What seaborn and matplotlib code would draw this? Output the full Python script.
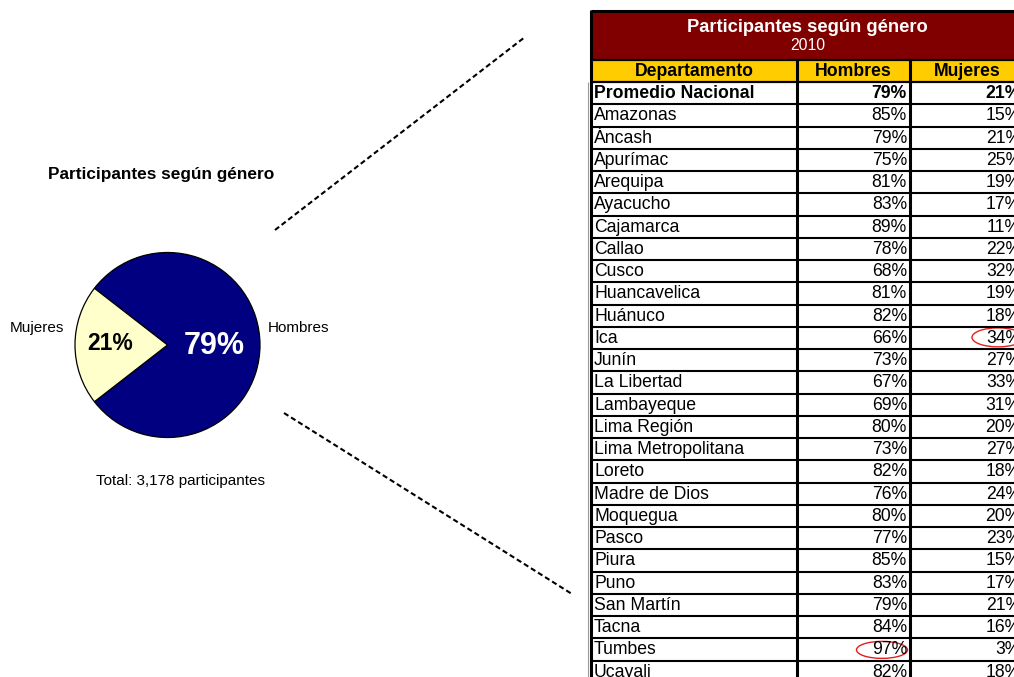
import numpy as np
import pandas as pd
import matplotlib.pyplot as plt
import seaborn as sns
from matplotlib.patches import Rectangle, Ellipse

# --- datos ---
genero = ['Hombres', 'Mujeres']
nacional = [79, 21]
total_participantes = '3,178'

departamentos = ['Amazonas', 'Áncash', 'Apurímac', 'Arequipa', 'Ayacucho', 'Cajamarca',
                 'Callao', 'Cusco', 'Huancavelica', 'Huánuco', 'Ica', 'Junín',
                 'La Libertad', 'Lambayeque', 'Lima Región', 'Lima Metropolitana',
                 'Loreto', 'Madre de Dios', 'Moquegua', 'Pasco', 'Piura', 'Puno',
                 'San Martín', 'Tacna', 'Tumbes', 'Ucayali']
hombres = [85, 79, 75, 81, 83, 89, 78, 68, 81, 82, 66, 73, 67, 69, 80, 73,
           82, 76, 80, 77, 85, 83, 79, 84, 97, 82]
mujeres = [15, 21, 25, 19, 17, 11, 22, 32, 19, 18, 34, 27, 33, 31, 20, 27,
           18, 24, 20, 23, 15, 17, 21, 16, 3, 18]

tabla = pd.DataFrame({'Departamento': ['Promedio Nacional'] + departamentos,
                      'Hombres': [nacional[0]] + hombres,
                      'Mujeres': [nacional[1]] + mujeres})

sns.set_theme(style='white')
plt.rcParams['font.family'] = ['Liberation Sans', 'DejaVu Sans']
plt.rcParams['text.color'] = 'black'

W, H = 1014, 677
fig = plt.figure(figsize=(W / 100, H / 100), dpi=100)
fig.patch.set_facecolor('white')

# capa de fondo en pixeles
ax = fig.add_axes([0, 0, 1, 1])
ax.set_xlim(0, W)
ax.set_ylim(H, 0)
ax.axis('off')

# --- torta ---
cx, cy, r = 167.5, 345, 92.5
lim = 1.25
pie_ax = fig.add_axes([(cx - r * lim) / W, (H - cy - r * lim) / H,
                       2 * r * lim / W, 2 * r * lim / H])
wedges, _, autotexts = pie_ax.pie(
    nacional, colors=['#000080', '#FFFFCC'],
    startangle=180 + nacional[1] * 1.8, counterclock=True,
    autopct='%.0f%%', wedgeprops=dict(edgecolor='black', linewidth=0.9))
pie_ax.set_xlim(-lim, lim)
pie_ax.set_ylim(-lim, lim)
pie_ax.set_aspect('equal')

autotexts[0].set_position((0.51, -0.01))
autotexts[0].set_color('white')
autotexts[0].set_fontsize(22)
autotexts[0].set_fontweight('bold')
autotexts[1].set_position((-0.62, 0.02))
autotexts[1].set_color('black')
autotexts[1].set_fontsize(16.5)
autotexts[1].set_fontweight('bold')

pie_ax.text(-1.416, 0.18, genero[1], ha='center', va='center', fontsize=11)
pie_ax.text(1.416, 0.18, genero[0], ha='center', va='center', fontsize=11)

ax.text(161.5, 175, 'Participantes según género', ha='center', va='center',
        fontsize=12.4, fontweight='bold')
ax.text(181, 481, f'Total: {total_participantes} participantes', ha='center',
        va='center', fontsize=11)

# lineas punteadas de conexion
ax.plot([275, 525], [230, 37], color='black', lw=1.5, ls=(0, (2.5, 1.5)))
ax.plot([284, 572], [413, 594], color='black', lw=1.5, ls=(0, (2.5, 1.5)))

# --- tabla ---
cols = [591, 797, 910, 1024]
y_top, y_head, y_rows = 11, 60, 82
row_h = 22.25
fs = 12.7

ax.add_patch(Rectangle((cols[0], y_top), cols[-1] - cols[0], y_head - y_top,
                       facecolor='#800000', edgecolor='none'))
ax.add_patch(Rectangle((cols[0], y_head), cols[-1] - cols[0], y_rows - y_head,
                       facecolor='#FFCC00', edgecolor='none'))
mid = (cols[0] + cols[-1]) / 2
ax.text(mid, 27, 'Participantes según género', color='white', ha='center',
        va='center', fontsize=13.2, fontweight='bold')
ax.text(mid, 46, '2010', color='white', ha='center', va='center', fontsize=11.3)

for j, name in enumerate(tabla.columns):
    ax.text((cols[j] + cols[j + 1]) / 2, (y_head + y_rows) / 2 + 1, name,
            ha='center', va='center', fontsize=fs, fontweight='bold')

for i, row in tabla.iterrows():
    yc = y_rows + (i + 0.5) * row_h + 0.5
    w = 'bold' if i == 0 else 'normal'
    ax.text(cols[0] + 3, yc, row['Departamento'], ha='left', va='center',
            fontsize=fs, fontweight=w)
    ax.text(cols[2] - 3, yc, f"{row['Hombres']}%", ha='right', va='center',
            fontsize=fs, fontweight=w)
    ax.text(cols[3] - 3, yc, f"{row['Mujeres']}%", ha='right', va='center',
            fontsize=fs, fontweight=w)

# lineas de la tabla
n = len(tabla)
bottom = y_rows + n * row_h
ax.hlines([y_top], cols[0], cols[-1], color='black', lw=2.2)
ax.hlines([y_head, y_rows], cols[0], cols[-1], color='black', lw=1.6)
ax.hlines(y_rows + np.arange(1, n + 1) * row_h, cols[0], cols[-1],
          color='black', lw=1.5)
ax.vlines([cols[0]], y_top - 1, bottom, color='black', lw=2.2)
ax.vlines([cols[0] - 3.5], y_rows, bottom, color='#9a9a9a', lw=0.8)
ax.vlines(cols[1:3], y_head, bottom, color='black', lw=2.2)

# resaltar maximos
ih = int(np.argmax(tabla['Hombres'].values[1:])) + 1
im = int(np.argmax(tabla['Mujeres'].values[1:])) + 1
ax.add_patch(Ellipse((cols[2] - 28, y_rows + (ih + 0.5) * row_h + 0.5), 51, 17,
                     fill=False, edgecolor='#E02020', lw=1.0))
ax.add_patch(Ellipse((cols[3] - 26, y_rows + (im + 0.5) * row_h - 0.5), 52, 19,
                     fill=False, edgecolor='#E02020', lw=1.0))

fig.savefig('out.png', dpi=100)
